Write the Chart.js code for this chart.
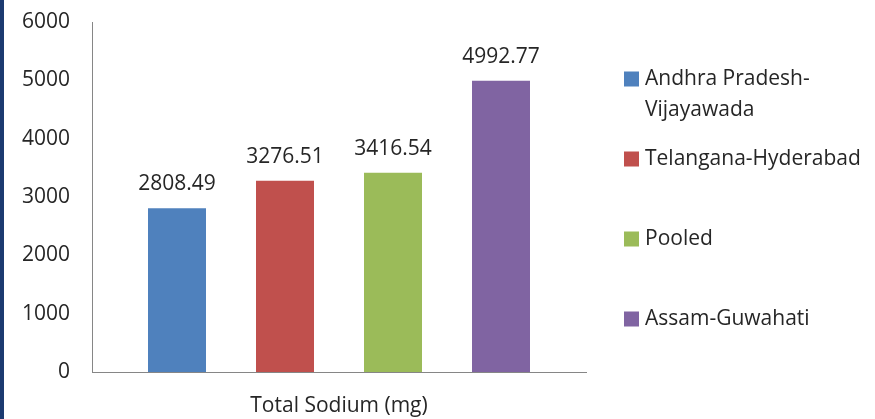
<!DOCTYPE html>
<html>
<head>
<meta charset="utf-8">
<script src="https://cdn.jsdelivr.net/npm/chart.js@4.4.1/dist/chart.umd.min.js"></script>
<style>
  html, body { margin: 0; padding: 0; background: #fff; }
  #wrap { position: relative; width: 875px; height: 419px; }
  #edge { position: absolute; left: 0; top: 0; width: 4px; height: 419px; background: #1c3a70; }
  canvas { display: block; }
</style>
</head>
<body>
<div id="wrap">
  <canvas id="c" width="875" height="419"></canvas>
  <div id="edge"></div>
</div>
<script>
// Category (x axis) and one series per region
const categories = ['Total Sodium (mg)'];
const seriesNames = ['Andhra Pradesh-Vijayawada', 'Telangana-Hyderabad', 'Pooled', 'Assam-Guwahati'];
const seriesValues = [2808.49, 3276.51, 3416.54, 4992.77];
const seriesColors = ['#4f81bd', '#c0504d', '#9bbb59', '#8064a2'];
const yTicks = [0, 1000, 2000, 3000, 4000, 5000, 6000];

const FONT = '"Open Sans", Lato, sans-serif';
const FSIZE = 21;
const TEXT = '#262626';

Chart.defaults.font.family = FONT;
Chart.defaults.color = TEXT;

// Value label above each bar
const valueLabels = {
  id: 'valueLabels',
  afterDatasetsDraw(chart) {
    const ctx = chart.ctx;
    ctx.save();
    ctx.font = FSIZE + 'px ' + FONT;
    ctx.fillStyle = TEXT;
    ctx.textAlign = 'center';
    ctx.textBaseline = 'middle';
    chart.data.datasets.forEach((ds, i) => {
      const meta = chart.getDatasetMeta(i);
      meta.data.forEach((bar, j) => {
        const v = ds.data[j];
        ctx.fillText(v.toFixed(2), bar.x, bar.y - 24);
      });
    });
    ctx.restore();
  }
};

// Legend on the right, items spread evenly, long names wrapped after hyphens/spaces
const sideLegend = {
  id: 'sideLegend',
  afterDraw(chart) {
    const ctx = chart.ctx;
    const boxX = 624, textX = 645, firstY = 79, step = 80, lineH = 31, maxW = 228, box = 15;
    ctx.save();
    ctx.font = FSIZE + 'px ' + FONT;
    ctx.textBaseline = 'middle';
    ctx.textAlign = 'left';
    chart.data.datasets.forEach((ds, i) => {
      const y = firstY + i * step;
      ctx.fillStyle = ds.backgroundColor;
      ctx.fillRect(boxX, y - box / 2, box, box);
      // wrap text
      const parts = ds.label.split(/(?<=[-\s])/);
      const lines = [];
      let cur = '';
      parts.forEach(p => {
        const test = cur + p;
        if (cur && ctx.measureText(test.trimEnd()).width > maxW) {
          lines.push(cur.trimEnd());
          cur = p;
        } else {
          cur = test;
        }
      });
      if (cur) lines.push(cur.trimEnd());
      ctx.fillStyle = TEXT;
      lines.forEach((ln, k) => ctx.fillText(ln, textX, y + k * lineH));
    });
    ctx.restore();
  }
};

new Chart(document.getElementById('c'), {
  type: 'bar',
  data: {
    labels: categories,
    datasets: seriesNames.map((name, i) => ({
      label: name,
      data: [seriesValues[i]],
      backgroundColor: seriesColors[i],
      borderWidth: 0,
      categoryPercentage: 0.8745,
      barPercentage: 0.537
    }))
  },
  options: {
    responsive: false,
    animation: false,
    layout: { padding: { top: 22, right: 289, left: 0, bottom: 0 } },
    plugins: {
      legend: { display: false },
      tooltip: { enabled: false }
    },
    scales: {
      x: {
        grid: { display: false, drawTicks: false },
        border: { display: true, color: '#868686', width: 1 },
        ticks: { font: { size: FSIZE }, color: TEXT, padding: 21 },
        afterFit(s) { s.height = 47; s.paddingLeft = 0; s.paddingRight = 0; }
      },
      y: {
        min: 0,
        max: 6000,
        afterBuildTicks(s) { s.ticks = yTicks.map(v => ({ value: v })); },
        grid: { display: false, drawTicks: false },
        border: { display: true, color: '#868686', width: 1 },
        ticks: { font: { size: FSIZE }, color: TEXT, padding: 22, callback: v => String(v) },
        afterFit(s) { s.width = 92; s.paddingTop = 0; s.paddingBottom = 0; }
      }
    }
  },
  plugins: [valueLabels, sideLegend]
});
</script>
</body>
</html>
